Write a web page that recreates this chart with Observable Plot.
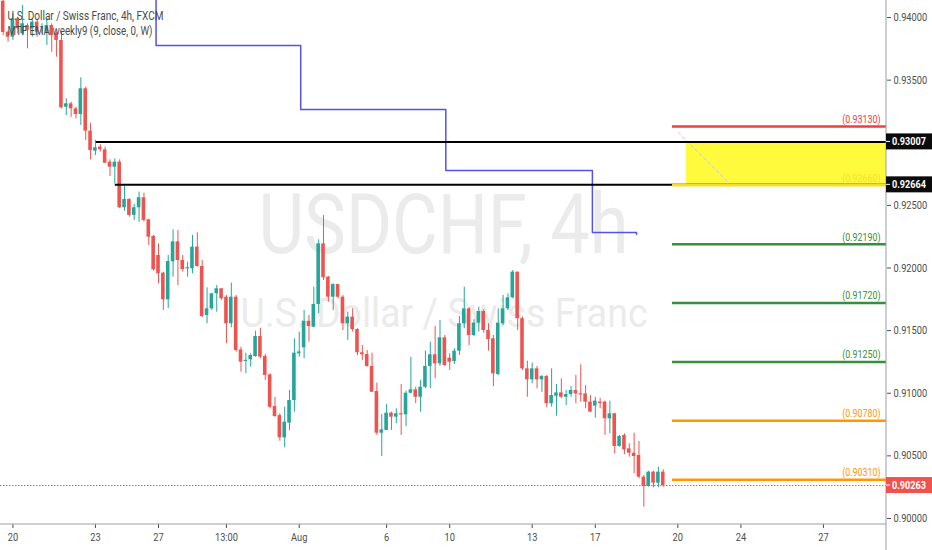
<!DOCTYPE html>
<html><head><meta charset="utf-8">
<script src="https://cdn.jsdelivr.net/npm/d3@7"></script>
<script src="https://cdn.jsdelivr.net/npm/@observablehq/plot@0.6"></script>
<style>
html,body{margin:0;padding:0;background:#fff;}
#chart{width:932px;height:550px;overflow:hidden;}
</style></head>
<body><div id="chart"></div>
<script>
// ---- 4h candles (bar index 0..136) ----
const opens = [
0.94130,0.93883,0.93843,0.93990,0.93870,0.93936,0.93910,0.93963,0.93920,0.93883,
0.93936,0.93870,0.93817,0.93284,0.93311,0.93271,0.93226,0.93431,0.93093,0.92933,
0.92965,0.92944,0.92845,0.92805,0.92845,0.92481,0.92547,0.92420,0.92481,0.92561,
0.92385,0.92252,0.92100,0.91959,0.91746,0.92049,0.92209,0.92060,0.91994,0.91994,
0.92167,0.92012,0.91621,0.91674,0.91794,0.91834,0.91767,0.91555,0.91767,0.91346,
0.91255,0.91267,0.91293,0.91453,0.91293,0.91147,0.90894,0.90822,0.90644,0.90761,
0.90942,0.91315,0.91363,0.91575,0.91527,0.91709,0.92193,0.91927,0.91767,0.91868,
0.91767,0.91555,0.91608,0.91509,0.91323,0.91309,0.91214,0.91014,0.90681,0.90703,
0.90841,0.90809,0.90836,0.90828,0.91000,0.91027,0.90968,0.91048,0.91214,0.91307,
0.91235,0.91443,0.91280,0.91253,0.91336,0.91555,0.91674,0.91461,0.91560,0.91653,
0.91501,0.91435,0.91150,0.91555,0.91674,0.91762,0.91967,0.91595,0.91195,0.91107,
0.91195,0.91107,0.91134,0.90916,0.90976,0.91003,0.90968,0.90990,0.91022,0.90995,
0.90995,0.90929,0.90897,0.90929,0.90929,0.90796,0.90836,0.90575,0.90663,0.90556,
0.90521,0.90503,0.90330,0.90255,0.90370,0.90282,0.90370];
const highs = [
0.94180,0.93890,0.94030,0.94003,0.94096,0.93950,0.93990,0.93976,0.93950,0.93990,
0.93950,0.93883,0.93883,0.93351,0.93324,0.93284,0.93519,0.93444,0.93156,0.93018,
0.92986,0.92965,0.92864,0.92872,0.92864,0.92651,0.92553,0.92507,0.92606,0.92598,
0.92390,0.92260,0.92193,0.91967,0.92100,0.92305,0.92299,0.92100,0.92046,0.92260,
0.92281,0.92060,0.91842,0.91799,0.91860,0.91834,0.91781,0.91879,0.91781,0.91368,
0.91320,0.91315,0.91495,0.91519,0.91309,0.91155,0.90968,0.90836,0.90889,0.91022,
0.91435,0.91488,0.91661,0.91621,0.91847,0.92225,0.92419,0.91932,0.91874,0.91868,
0.91781,0.91648,0.91674,0.91515,0.91381,0.91341,0.91320,0.91081,0.90830,0.90910,
0.90849,0.90876,0.91070,0.91016,0.91288,0.91048,0.91102,0.91336,0.91408,0.91533,
0.91581,0.91461,0.91315,0.91355,0.91613,0.91847,0.91687,0.91587,0.91687,0.91666,
0.91555,0.91461,0.91674,0.91781,0.91794,0.91980,0.91967,0.91608,0.91256,0.91240,
0.91214,0.91142,0.91142,0.91195,0.91070,0.91115,0.91022,0.91054,0.91142,0.91227,
0.91062,0.90982,0.90968,0.90960,0.90937,0.90937,0.90841,0.90663,0.90676,0.90596,
0.90681,0.90615,0.90343,0.90378,0.90378,0.90410,0.90389];
const lows = [
0.93857,0.93803,0.93817,0.93870,0.93857,0.93750,0.93843,0.93843,0.93870,0.93777,
0.93723,0.93683,0.93271,0.93218,0.93204,0.93191,0.93138,0.93018,0.92864,0.92898,
0.92925,0.92832,0.92731,0.92672,0.92473,0.92454,0.92406,0.92380,0.92366,0.92366,
0.92180,0.91975,0.91874,0.91661,0.91677,0.91927,0.91860,0.91967,0.91927,0.91954,
0.92007,0.91603,0.91554,0.91661,0.91647,0.91741,0.91395,0.91523,0.91328,0.91168,
0.91156,0.91208,0.91288,0.91275,0.91102,0.90876,0.90808,0.90617,0.90565,0.90703,
0.90849,0.91288,0.91275,0.91408,0.91523,0.91634,0.91900,0.91727,0.91661,0.91754,
0.91501,0.91421,0.91488,0.91301,0.91262,0.91208,0.91008,0.90663,0.90495,0.90703,
0.90703,0.90756,0.90663,0.90734,0.90995,0.90916,0.90849,0.91036,0.91036,0.91115,
0.91214,0.91214,0.91182,0.91230,0.91301,0.91515,0.91381,0.91453,0.91488,0.91480,
0.91336,0.91054,0.91142,0.91541,0.91661,0.91754,0.91501,0.91182,0.90968,0.91075,
0.91036,0.91008,0.90884,0.90889,0.90817,0.90956,0.90902,0.90968,0.90916,0.90929,
0.90876,0.90849,0.90801,0.90876,0.90663,0.90676,0.90516,0.90569,0.90509,0.90489,
0.90357,0.90317,0.90090,0.90250,0.90245,0.90245,0.90250];
const closes = [
0.93881,0.93843,0.93990,0.93910,0.93950,0.93896,0.93963,0.93883,0.93926,0.93936,
0.93857,0.93817,0.93279,0.93311,0.93271,0.93226,0.93431,0.93093,0.92938,0.92960,
0.92944,0.92837,0.92805,0.92845,0.92481,0.92547,0.92420,0.92481,0.92561,0.92380,
0.92246,0.91986,0.91954,0.91746,0.92052,0.92209,0.92060,0.91988,0.92001,0.92167,
0.92012,0.91613,0.91674,0.91794,0.91834,0.91754,0.91555,0.91767,0.91341,0.91248,
0.91262,0.91301,0.91453,0.91288,0.91142,0.90888,0.90814,0.90644,0.90769,0.90942,
0.91320,0.91330,0.91575,0.91533,0.91709,0.92193,0.91922,0.91767,0.91868,0.91767,
0.91555,0.91608,0.91509,0.91323,0.91307,0.91214,0.91008,0.90681,0.90708,0.90841,
0.90809,0.90836,0.90828,0.91000,0.91027,0.90968,0.91048,0.91214,0.91307,0.91235,
0.91443,0.91221,0.91248,0.91336,0.91555,0.91674,0.91461,0.91560,0.91653,0.91501,
0.91429,0.91155,0.91560,0.91674,0.91762,0.91967,0.91595,0.91195,0.91107,0.91195,
0.91107,0.91134,0.90916,0.90982,0.91003,0.90968,0.90990,0.91022,0.90995,0.90987,
0.90929,0.90849,0.90937,0.90918,0.90796,0.90836,0.90575,0.90655,0.90548,0.90521,
0.90495,0.90330,0.90255,0.90370,0.90282,0.90370,0.90263];

// ---- axis ticks ----
const xTickIndex = [2, 19, 32, 46, 61, 79, 92, 109, 122, 139, 152, 169];
const xTickLabels = ["20","23","27","13:00","Aug","6","10","13","17","20","24","27"];
const yTickValues = [0.900, 0.905, 0.910, 0.915, 0.920, 0.925, 0.935, 0.940];

// ---- weekly EMA (step line, value per week start bar) ----
const emaWeekStart = [31.5, 31.5, 61.3, 91.2, 121.4, 130.5];
const emaValues = [0.94500, 0.93776, 0.93265, 0.92778, 0.92283, 0.92270];

// ---- drawn zone ----
const zoneValues = [0.93007, 0.92664];
const zoneStart = [19.2, 23.1];
const boxStart = 140.8;

// ---- target / stop levels ----
const levelValues = [0.93130, 0.92660, 0.92190, 0.91720, 0.91250, 0.90780, 0.90310];
const levelGroups = ["stop", "entry", "target", "target", "target", "target2", "target2"];
const levelStart = 137.9;

// ---- faint guide inside zone ----
const guideIndex = [139.1, 149.4];
const guideValues = [0.93084, 0.92685];

// ---- texts ----
const titleText = "U.S. Dollar / Swiss Franc, 4h, FXCM";
const studyText = "MTF EMA weekly9 (9, close, 0, W)";
const watermarkSymbol = "USDCHF, 4h";
const watermarkName = "U.S. Dollar / Swiss Franc";

const lastPrice = closes[closes.length - 1];
const xDomain = [-0.556, 182.0];
const yDomain = [0.89952, 0.94136];

// ---- build ----
const UP = "#26a69a", DOWN = "#ef5350";
const levelColor = {stop: "#ef3e3e", entry: "#f3df2b", target: "#388e3c", target2: "#ff9800"};
const candles = opens.map((o, i) => ({k: i, open: o, high: highs[i], low: lows[i], close: closes[i]}));
const col = d => d.close >= d.open ? UP : DOWN;
const minBody = 0.00009;
const bodyPad = d => Math.max(0, (minBody - Math.abs(d.close - d.open)) / 2);
const ema = emaWeekStart.map((k, i) => ({k, v: emaValues[i]}));
const zones = zoneValues.map((v, i) => ({v, start: zoneStart[i]}));
const levels = levelValues.map((v, i) => ({v, g: levelGroups[i]}));
const guide = guideIndex.map((k, i) => ({k, v: guideValues[i]}));
const tickMap = new Map(xTickIndex.map((k, i) => [k, xTickLabels[i]]));

const plot = Plot.plot({
  width: 932, height: 550,
  marginLeft: 0, marginRight: 46, marginTop: 0, marginBottom: 26,
  style: {background: "#ffffff", fontFamily: "Roboto, sans-serif", fontSize: "11px", color: "#4c4c4c", overflow: "hidden"},
  x: {domain: xDomain, ticks: xTickIndex, tickFormat: d => tickMap.get(d), tickSize: 4, tickPadding: 5, label: null},
  y: {domain: yDomain, axis: "right", ticks: yTickValues, tickFormat: d => d.toFixed(5), tickSize: 4, tickPadding: 3, label: null},
  marks: [
    Plot.text([watermarkSymbol], {text: d => d, frameAnchor: "top-left", dx: 258, dy: 252, lineAnchor: "bottom", textAnchor: "start", fontSize: 84, fill: "#ebebeb"}),
    Plot.text([watermarkName], {text: d => d, frameAnchor: "top-left", dx: 240, dy: 326, lineAnchor: "bottom", textAnchor: "start", fontSize: 41, fill: "#ebebeb"}),
    Plot.rect([0], {x1: boxStart, x2: xDomain[1], y1: zoneValues[1], y2: zoneValues[0], fill: "#fffb3c"}),
    Plot.line(guide, {x: "k", y: "v", stroke: "#c9c9c9", strokeWidth: 1, strokeDasharray: "3,3"}),
    Plot.ruleY([lastPrice], {stroke: "#f05050", strokeWidth: 1, strokeDasharray: "1.5,1.5"}),
    Plot.ruleX(candles, {x: "k", y1: "low", y2: "high", stroke: col, strokeWidth: 1, clip: true}),
    Plot.rect(candles, {
      x1: d => d.k - 0.37, x2: d => d.k + 0.37,
      y1: d => Math.min(d.open, d.close) - bodyPad(d),
      y2: d => Math.max(d.open, d.close) + bodyPad(d),
      fill: col, clip: true}),
    Plot.line(ema, {x: "k", y: "v", curve: "step-after", stroke: "#5252ec", strokeWidth: 1.5, clip: true}),
    Plot.ruleY(zones, {y: "v", x1: "start", x2: () => xDomain[1], stroke: "#000", strokeWidth: 2}),
    Plot.ruleY(levels, {y: "v", x1: () => levelStart, x2: () => xDomain[1], stroke: d => levelColor[d.g], strokeWidth: 2.5}),
    Plot.text(levels, {x: () => xDomain[1], y: "v", dx: -6, dy: -7, textAnchor: "end", text: d => `(${d.v.toFixed(5)})`, fill: d => levelColor[d.g], fontSize: 10.5}),
    Plot.text([titleText], {text: d => d, frameAnchor: "top-left", dx: 7, dy: 19, lineAnchor: "bottom", textAnchor: "start", fontSize: 12.5, fill: "#4a4a4a"}),
    Plot.text([studyText], {text: d => d, frameAnchor: "top-left", dx: 7, dy: 34, lineAnchor: "bottom", textAnchor: "start", fontSize: 12.5, fill: "#4a4a4a"})
  ]
});

document.getElementById("chart").appendChild(plot);

const svg = d3.select(plot);
const xs = plot.scale("x"), ys = plot.scale("y");
const right = xs.apply(xDomain[1]);
const bottom = ys.apply(yDomain[0]);

// frame borders
svg.append("line").attr("x1", 0).attr("x2", right).attr("y1", bottom).attr("y2", bottom).attr("stroke", "#9aa0a6").attr("stroke-width", 1);
svg.append("line").attr("x1", right).attr("x2", right).attr("y1", 0).attr("y2", 550).attr("stroke", "#9aa0a6").attr("stroke-width", 1);

// price boxes on the right scale
const boxes = [[zoneValues[0], "#0b0b0b"], [zoneValues[1], "#0b0b0b"], [lastPrice, DOWN]];
for (const [v, bg] of boxes) {
  const y = ys.apply(v);
  svg.append("rect").attr("x", right).attr("y", y - 8).attr("width", 46).attr("height", 16).attr("fill", bg);
  svg.append("line").attr("x1", right).attr("x2", right + 4).attr("y1", y).attr("y2", y).attr("stroke", "#fff");
  svg.append("text").attr("x", right + 6).attr("y", y + 4).attr("fill", "#fff").attr("font-weight", "bold")
    .attr("text-anchor", "start").attr("font-size", 10).attr("font-family", "Roboto, sans-serif")
    .attr("class", "pricebox").text(v.toFixed(5));
}

// condense texts to match the narrow look of the source
const fixedLen = new Map([[watermarkSymbol, 370], [watermarkName, 407], [titleText, 156], [studyText, 145]]);
svg.selectAll("text").each(function() {
  const t = this.textContent;
  let len;
  if (fixedLen.has(t)) len = fixedLen.get(t);
  else if (this.getAttribute("class") === "pricebox") len = 34;
  else { const L = this.getComputedTextLength(); if (!(L > 0)) return; len = L * 0.84; }
  this.setAttribute("textLength", len.toFixed(1));
  this.setAttribute("lengthAdjust", "spacingAndGlyphs");
});
</script>
</body></html>
